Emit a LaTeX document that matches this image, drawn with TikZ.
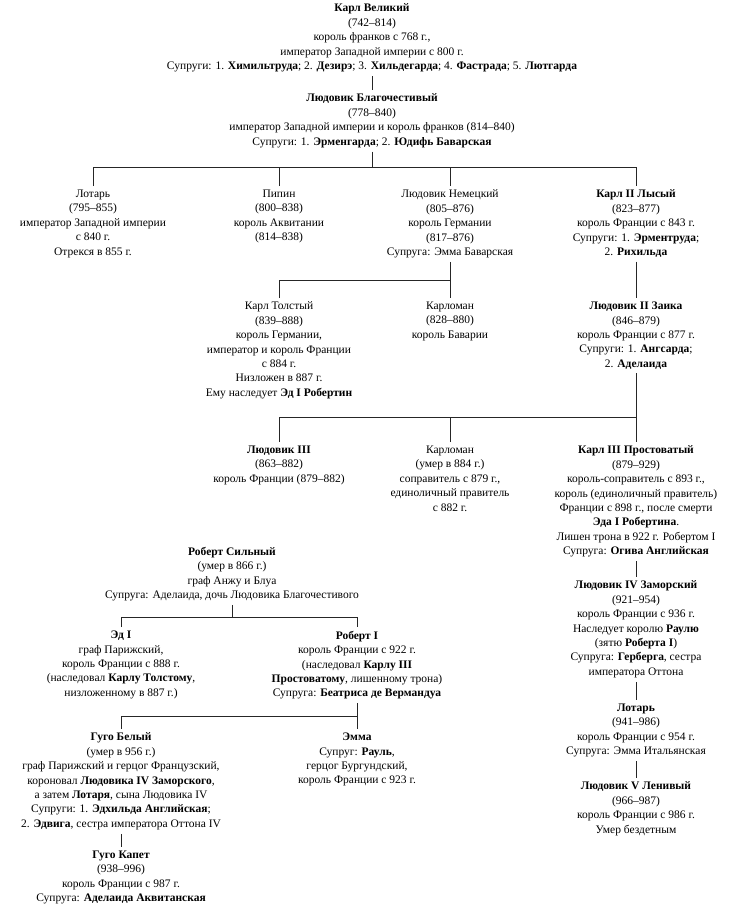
\documentclass[tikz,border=0pt]{standalone}
\usepackage{fontspec}
\setmainfont{Liberation Serif}
\begin{document}
\begin{tikzpicture}[x=1pt,y=-1pt,
  p/.style={align=center,anchor=north,inner sep=0pt,outer sep=4pt,font=\fontsize{11.5}{14.4}\selectfont},
  l/.style={line width=0.7pt,draw=black!85}]
\useasboundingbox (0,0) rectangle (732,905);
\node[p] (karl) at (372,0) {\textbf{Карл Великий}\\(742–814)\\король франков с 768 г.,\\император Западной империи с 800 г.\\Супруги: 1. \textbf{Химильтруда}; 2. \textbf{Дезирэ}; 3. \textbf{Хильдегарда}; 4. \textbf{Фастрада}; 5. \textbf{Лютгарда}};
\node[p] (ludo) at (372,90) {\textbf{Людовик Благочестивый}\\(778–840)\\император Западной империи и король франков (814–840)\\Супруги: 1. \textbf{Эрменгарда}; 2. \textbf{Юдифь Баварская}};
\node[p] (lotar) at (93,186) {Лотарь\\(795–855)\\император Западной империи\\с 840 г.\\Отрекся в 855 г.};
\node[p] (pipin) at (279,186) {Пипин\\(800–838)\\король Аквитании\\(814–838)};
\node[p] (ludn) at (450,186) {Людовик Немецкий\\(805–876)\\король Германии\\(817–876)\\Супруга: Эмма Баварская};
\node[p] (karl2) at (636,186) {\textbf{Карл II Лысый}\\(823–877)\\король Франции с 843 г.\\Супруги: 1. \textbf{Эрментруда};\\2. \textbf{Рихильда}};
\node[p] (karlt) at (279,298) {Карл Толстый\\(839–888)\\король Германии,\\император и король Франции\\с 884 г.\\Низложен в 887 г.\\Ему наследует \textbf{Эд I Робертин}};
\node[p] (karlm) at (450,298) {Карломан\\(828–880)\\король Баварии};
\node[p] (lud2) at (636,298) {\textbf{Людовик II Заика}\\(846–879)\\король Франции с 877 г.\\Супруги: 1. \textbf{Ангсарда};\\2. \textbf{Аделаида}};
\node[p] (lud3) at (279,442) {\textbf{Людовик III}\\(863–882)\\король Франции (879–882)};
\node[p] (karlm2) at (450,442) {Карломан\\(умер в 884 г.)\\соправитель с 879 г.,\\единоличный правитель\\с 882 г.};
\node[p] (karl3) at (636,442) {\textbf{Карл III Простоватый}\\(879–929)\\король-соправитель с 893 г.,\\король (единоличный правитель)\\Франции с 898 г., после смерти\\\textbf{Эда I Робертина}.\\Лишен трона в 922 г. Робертом I\\Супруга: \textbf{Огива Английская}};
\node[p] (lud4) at (636,577) {\textbf{Людовик IV Заморский}\\(921–954)\\король Франции с 936 г.\\Наследует королю \textbf{Раулю}\\(зятю \textbf{Роберта I})\\Супруга: \textbf{Герберга}, сестра\\императора Оттона};
\node[p] (lotar2) at (636,700) {\textbf{Лотарь}\\(941–986)\\король Франции с 954 г.\\Супруга: Эмма Итальянская};
\node[p] (lud5) at (636,778) {\textbf{Людовик V Ленивый}\\(966–987)\\король Франции с 986 г.\\Умер бездетным};
\node[p] (rob) at (232,543) {\textbf{Роберт Сильный}\\(умер в 866 г.)\\граф Анжу и Блуа\\Супруга: Аделаида, дочь Людовика Благочестивого};
\node[p] (ed) at (121,627) {\textbf{Эд I}\\граф Парижский,\\король Франции с 888 г.\\(наследовал \textbf{Карлу Толстому},\\низложенному в 887 г.)};
\node[p] (rob1) at (357,627) {\textbf{Роберт I}\\король Франции с 922 г.\\(наследовал \textbf{Карлу III}\\\textbf{Простоватому}, лишенному трона)\\Супруга: \textbf{Беатриса де Вермандуа}};
\node[p] (hugo) at (121,729) {\textbf{Гуго Белый}\\(умер в 956 г.)\\граф Парижский и герцог Французский,\\короновал \textbf{Людовика IV Заморского},\\а затем \textbf{Лотаря}, сына Людовика IV\\Супруги: 1. \textbf{Эдхильда Английская};\\2. \textbf{Эдвига}, сестра императора Оттона IV};
\node[p] (emma) at (357,729) {\textbf{Эмма}\\Супруг: \textbf{Рауль},\\герцог Бургундский,\\король Франции с 923 г.};
\node[p] (capet) at (121,847) {\textbf{Гуго Капет}\\(938–996)\\король Франции с 987 г.\\Супруга: \textbf{Аделаида Аквитанская}};
\coordinate (b1) at (0,167); \coordinate (b2) at (0,280); \coordinate (b3) at (0,417);
\coordinate (b4) at (0,617); \coordinate (b5) at (0,716);
\draw[l] (karl) -- (ludo);
\draw[l] (ludo.south) -- (ludo.south |- b1);
\draw[l] (lotar.north) -- (lotar.north |- b1) -- (karl2.north |- b1) -- (karl2.north);
\draw[l] (pipin.north) -- (pipin.north |- b1);
\draw[l] (ludn.north) -- (ludn.north |- b1);
\draw[l] (ludn.south) -- (ludn.south |- b2);
\draw[l] (karlt.north) -- (karlt.north |- b2) -- (karlm.north |- b2) -- (karlm.north);
\draw[l] (karl2) -- (lud2);
\draw[l] (lud2.south) -- (lud2.south |- b3);
\draw[l] (lud3.north) -- (lud3.north |- b3) -- (karl3.north |- b3) -- (karl3.north);
\draw[l] (karlm2.north) -- (karlm2.north |- b3);
\draw[l] (karl3) -- (lud4);
\draw[l] (lud4) -- (lotar2);
\draw[l] (lotar2) -- (lud5);
\draw[l] (rob.south) -- (rob.south |- b4);
\draw[l] (ed.north) -- (ed.north |- b4) -- (rob1.north |- b4) -- (rob1.north);
\draw[l] (rob1.south) -- (rob1.south |- b5);
\draw[l] (hugo.north) -- (hugo.north |- b5) -- (emma.north |- b5) -- (emma.north);
\draw[l] (hugo) -- (capet);
\end{tikzpicture}
\end{document}
